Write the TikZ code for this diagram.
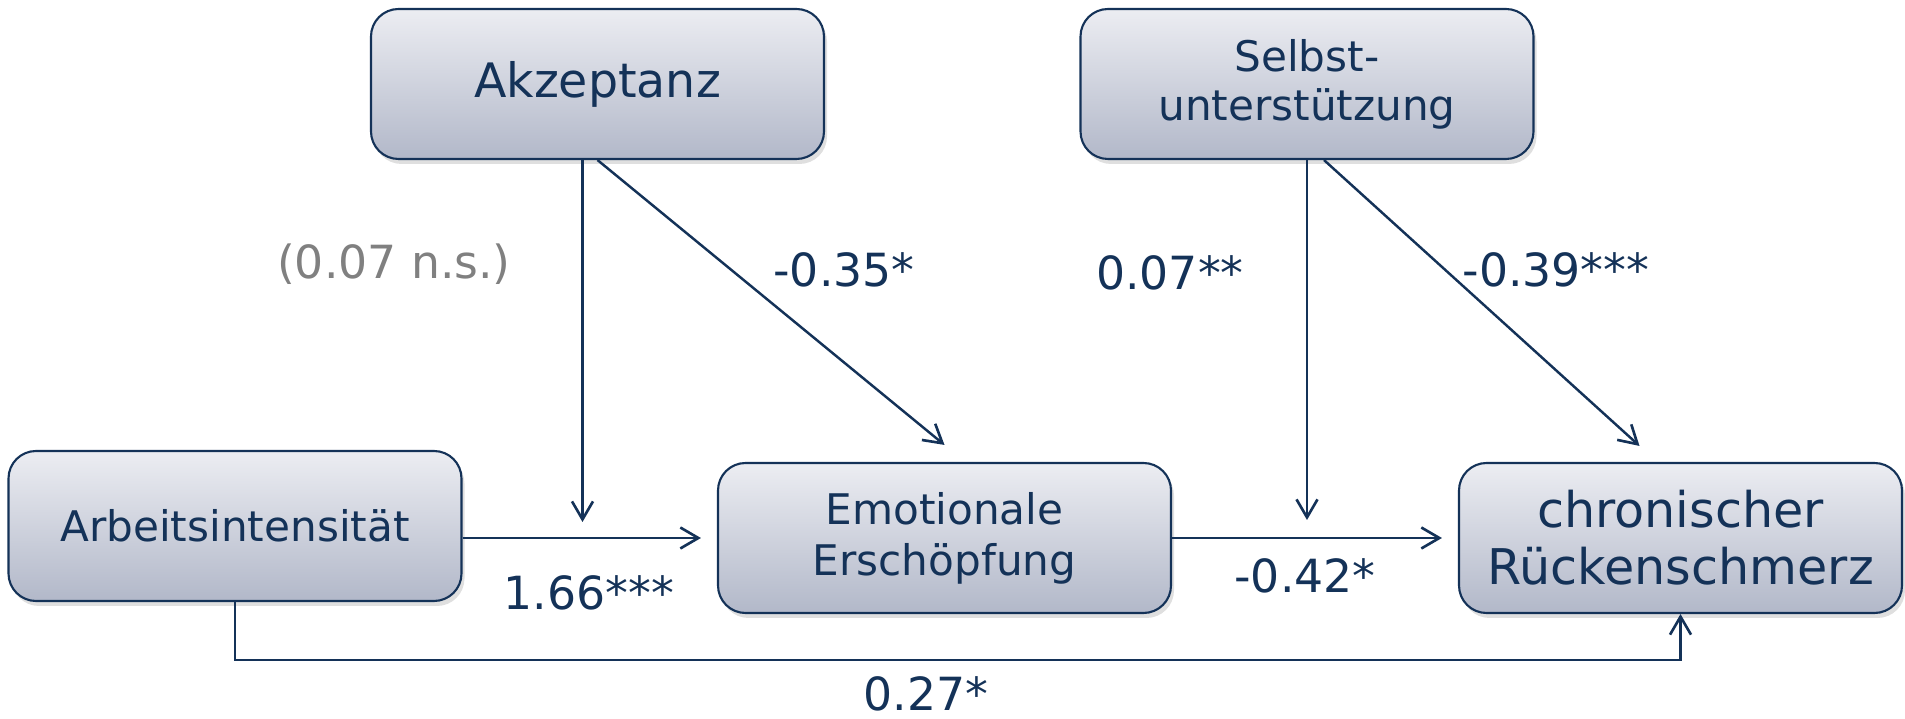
\documentclass[tikz,border=0pt]{standalone}
\usepackage{fontspec}
\setmainfont{DejaVu Sans}
\usepackage{xcolor}
\usetikzlibrary{arrows.meta,positioning,calc,shadows}
\definecolor{navy}{RGB}{20,50,88}
\definecolor{boxtop}{RGB}{236,237,242}
\definecolor{boxbot}{RGB}{178,184,201}
\definecolor{nsgray}{RGB}{128,128,128}

\begin{document}
\begin{tikzpicture}[
  box/.style={draw=navy, line width=1.2pt, rounded corners=0.55cm, top color=boxtop, bottom color=boxbot,
    minimum width=9.06cm, minimum height=3.0cm, align=center, text=navy,
    drop shadow={shadow xshift=0.06cm, shadow yshift=-0.1cm, opacity=0.25}},
  lbl/.style={text=navy, inner sep=1pt, font=\fontsize{26}{30}\selectfont},
  arr/.style={navy, line width=1.4pt, -{Straight Barb[length=0.36cm, width=0.42cm, line width=1.5pt]}}
]
\useasboundingbox (0,0) rectangle (38.1,14.38);
% Moderatoren oben
\node[box, font=\fontsize{27}{31}\selectfont] (akz) at (11.95,12.70) {Akzeptanz};
\node[box, font=\fontsize{24}{27.9}\selectfont] (selbst) at (26.14,12.70) {Selbst-\\unterstützung};
% Pfad unten
\node[box, font=\fontsize{24}{28}\selectfont] (arb) at (4.70,3.86) {Arbeitsintensität};
\node[box, font=\fontsize{24}{29}\selectfont] (emo) at (18.89,3.62) {Emotionale\\Erschöpfung};
\node[box, minimum width=8.86cm, font=\fontsize{28}{32.4}\selectfont] (rueck) at (33.61,3.62) {chronischer\\Rückenschmerz};
% Hilfspunkte
\coordinate (akzv) at ([xshift=-0.3cm]akz.south);
\coordinate (emot) at ([yshift=0.34cm]emo.north);
\coordinate (selbstd) at ([xshift=0.34cm]selbst.south);
\coordinate (rueckt) at ([xshift=-0.82cm, yshift=0.32cm]rueck.north);
% Pfeile
\draw[arr, shorten >=0.32cm] (arb.east |- emo.west) -- (emo.west);
\draw[arr, shorten >=0.32cm] (akzv) -- (akzv |- emo.west);
\draw[arr] (akz.south) -- (emot);
\draw[arr, shorten >=0.32cm] (emo.east) -- (rueck.west);
\draw[arr, shorten >=0.36cm] (selbst.south) -- (selbst.south |- rueck.west);
\draw[arr] (selbstd) -- (rueckt);
\draw[arr] (arb.south) |- ([yshift=-0.92cm]rueck.south) -- (rueck.south);
% Koeffizienten
\node[lbl, text=nsgray] (ns) at (7.88,9.10) {(0.07 n.s.)};
\node[lbl] (c1) at (16.88,8.98) {-0.35*};
\node[lbl] (c2) at (11.78,2.52) {1.66***};
\node[lbl] (c3) at (23.40,8.92) {0.07**};
\node[lbl] (c4) at (31.12,8.98) {-0.39***};
\node[lbl] (c5) at (26.10,2.86) {-0.42*};
\node[lbl] (c6) at (18.52,0.50) {0.27*};
\end{tikzpicture}
\end{document}
